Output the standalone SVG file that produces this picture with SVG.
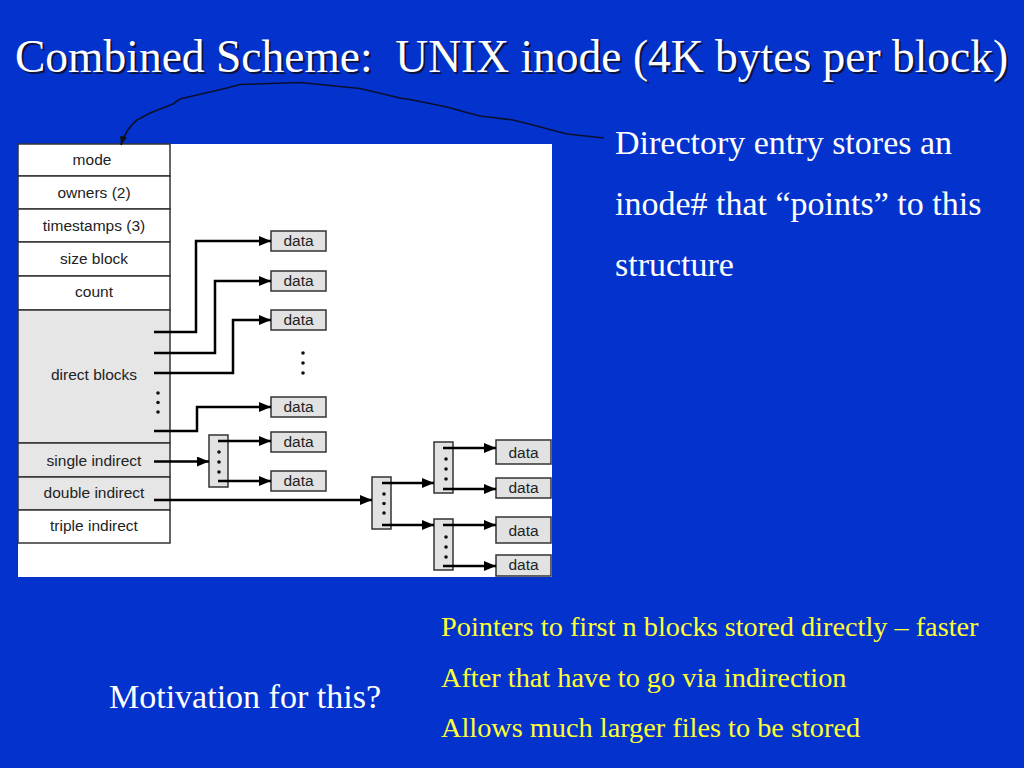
<svg xmlns="http://www.w3.org/2000/svg" width="1024" height="768" viewBox="0 0 1024 768">
<defs>
<style>
.title{font-family:"Liberation Serif","Times New Roman",serif;font-size:45.5px;}
.body{font-family:"Liberation Serif","Times New Roman",serif;font-size:34px;fill:#ffffff;}
.yel{font-family:"Liberation Serif","Times New Roman",serif;font-size:28.3px;fill:#ffff33;}
.lbl{font-family:"Liberation Sans",Arial,sans-serif;font-size:15.5px;fill:#222;text-anchor:middle;}
.cell{stroke:#333;stroke-width:1.5;}
.wht{fill:#ffffff;}
.gry{fill:#e6e6e6;}
.box{fill:#e2e2e2;stroke:#333;stroke-width:1.5;}
.ptra{fill:none;stroke:#000;stroke-width:2.5;marker-end:url(#ah);}
.dot{fill:#111;}
</style>
<marker id="ah" viewBox="0 0 12 10" refX="12" refY="5" markerWidth="12" markerHeight="10" markerUnits="userSpaceOnUse" orient="auto">
<path d="M0,0 L12,5 L0,10 z" fill="#000"/>
</marker>
<marker id="ah2" viewBox="0 0 10 8" refX="10" refY="4" markerWidth="9" markerHeight="7" markerUnits="userSpaceOnUse" orient="auto">
<path d="M0,0 L10,4 L0,8 z" fill="#111"/>
</marker>
</defs>
<rect x="0" y="0" width="1024" height="768" fill="#0333cc"/>

<g id="title">
<text class="title" x="17" y="74" fill="#0a1440" xml:space="preserve">Combined Scheme:  UNIX inode (4K bytes per block)</text>
<text class="title" x="15" y="72" fill="#ffffff" xml:space="preserve">Combined Scheme:  UNIX inode (4K bytes per block)</text>
</g>

<rect id="panel" x="18" y="144" width="534" height="433" fill="#ffffff"/>

<g id="inode">
<rect class="cell wht" x="18" y="144" width="152" height="32"/>
<rect class="cell wht" x="18" y="176" width="152" height="33"/>
<rect class="cell wht" x="18" y="209" width="152" height="33"/>
<rect class="cell wht" x="18" y="242" width="152" height="34"/>
<rect class="cell wht" x="18" y="276" width="152" height="34"/>
<rect class="cell gry" x="18" y="310" width="152" height="133"/>
<rect class="cell gry" x="18" y="443" width="152" height="34"/>
<rect class="cell gry" x="18" y="477" width="152" height="33"/>
<rect class="cell wht" x="18" y="510" width="152" height="33"/>
<text class="lbl" x="92" y="165">mode</text>
<text class="lbl" x="94" y="198">owners (2)</text>
<text class="lbl" x="94" y="231">timestamps (3)</text>
<text class="lbl" x="94" y="264">size block</text>
<text class="lbl" x="94" y="297">count</text>
<text class="lbl" x="94" y="380">direct blocks</text>
<text class="lbl" x="94" y="466">single indirect</text>
<text class="lbl" x="94" y="498">double indirect</text>
<text class="lbl" x="94" y="531">triple indirect</text>
<circle class="dot" cx="158" cy="393" r="1.8"/>
<circle class="dot" cx="158" cy="402.5" r="1.8"/>
<circle class="dot" cx="158" cy="412" r="1.8"/>
</g>

<g id="data-blocks">
<rect class="box" x="271" y="231" width="55" height="20"/><text class="lbl" x="298.5" y="246">data</text>
<rect class="box" x="271" y="271" width="55" height="20"/><text class="lbl" x="298.5" y="286">data</text>
<rect class="box" x="271" y="310" width="55" height="20"/><text class="lbl" x="298.5" y="325">data</text>
<rect class="box" x="271" y="397" width="55" height="20"/><text class="lbl" x="298.5" y="412">data</text>
<rect class="box" x="271" y="432" width="55" height="20"/><text class="lbl" x="298.5" y="447">data</text>
<rect class="box" x="271" y="471" width="55" height="20"/><text class="lbl" x="298.5" y="486">data</text>
<rect class="box" x="496" y="440" width="55" height="24"/><text class="lbl" x="523.5" y="458">data</text>
<rect class="box" x="496" y="478" width="55" height="20"/><text class="lbl" x="523.5" y="493">data</text>
<rect class="box" x="496" y="517" width="55" height="26"/><text class="lbl" x="523.5" y="536">data</text>
<rect class="box" x="496" y="555" width="55" height="21"/><text class="lbl" x="523.5" y="570">data</text>
<circle class="dot" cx="303" cy="353" r="1.8"/>
<circle class="dot" cx="303" cy="363" r="1.8"/>
<circle class="dot" cx="303" cy="373" r="1.8"/>
</g>

<g id="indirect-blocks">
<rect class="box" x="209" y="435" width="19" height="52"/>
<circle class="dot" cx="219" cy="452" r="1.8"/>
<circle class="dot" cx="219" cy="462" r="1.8"/>
<circle class="dot" cx="219" cy="472" r="1.8"/>
<rect class="box" x="372" y="477" width="19" height="52"/>
<circle class="dot" cx="384" cy="494" r="1.8"/>
<circle class="dot" cx="384" cy="503.5" r="1.8"/>
<circle class="dot" cx="384" cy="513" r="1.8"/>
<rect class="box" x="434" y="442" width="19" height="51"/>
<circle class="dot" cx="446" cy="459" r="1.8"/>
<circle class="dot" cx="446" cy="469" r="1.8"/>
<circle class="dot" cx="446" cy="479" r="1.8"/>
<rect class="box" x="434" y="519" width="19" height="51"/>
<circle class="dot" cx="446" cy="537" r="1.8"/>
<circle class="dot" cx="446" cy="547" r="1.8"/>
<circle class="dot" cx="446" cy="557" r="1.8"/>
</g>

<g id="connectors">
<path class="ptra" d="M154,332 H196 V241 H271"/>
<path class="ptra" d="M154,353 H215 V281 H271"/>
<path class="ptra" d="M154,373 H233 V320 H271"/>
<path class="ptra" d="M154,431 H197 V407 H271"/>
<path class="ptra" d="M154,461.5 H209"/>
<path class="ptra" d="M218,441 H271"/>
<path class="ptra" d="M218,481 H271"/>
<path class="ptra" d="M154,500 H372"/>
<path class="ptra" d="M382,483 H434"/>
<path class="ptra" d="M382,525 H434"/>
<path class="ptra" d="M443,448 H496"/>
<path class="ptra" d="M443,489 H496"/>
<path class="ptra" d="M443,525 H496"/>
<path class="ptra" d="M443,566 H496"/>
<path d="M604,138 L567,134 L548,129 L533,125 L513,120 L480,116 L463,111.5 L447,107 L410,99.5 L400,98 L360,88.5 L300,82.5 L240,84.5 L227,88 L180,99 L173,104 L150,113 L137,120 C128,127 124,135 121,145" fill="none" stroke="#0a0f30" stroke-width="1.6" stroke-linejoin="round" marker-end="url(#ah2)"/>
</g>

<g id="notes">
<text class="body" x="615" y="154">Directory entry stores an</text>
<text class="body" x="615" y="215">inode# that “points” to this</text>
<text class="body" x="615" y="276">structure</text>
<text class="body" x="109" y="708">Motivation for this?</text>
<text class="yel" x="441" y="636">Pointers to first n blocks stored directly – faster</text>
<text class="yel" x="441" y="687">After that have to go via indirection</text>
<text class="yel" x="441" y="737">Allows much larger files to be stored</text>
</g>
</svg>
